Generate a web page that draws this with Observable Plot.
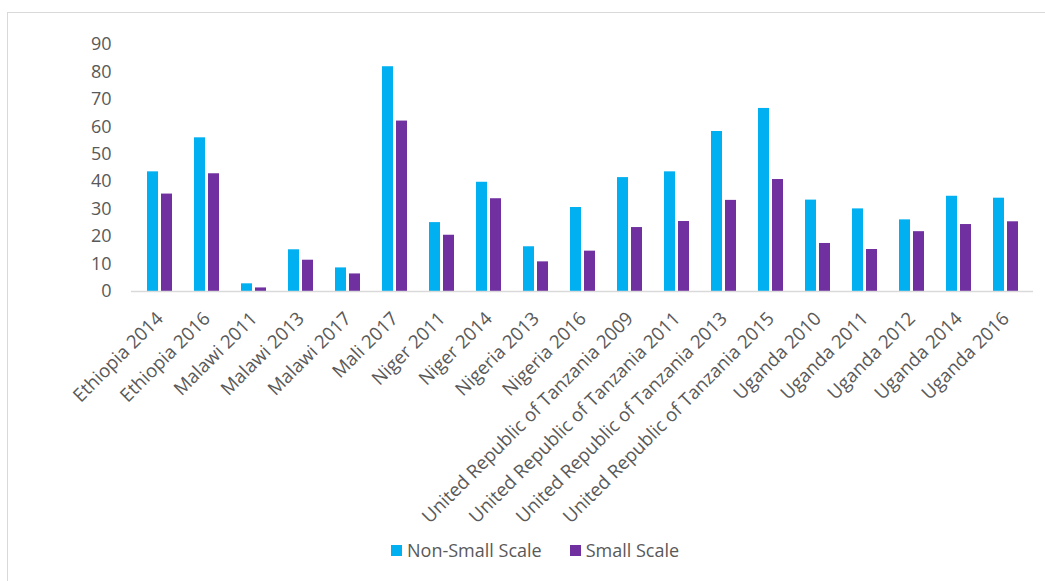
<!DOCTYPE html>
<html>
<head>
<meta charset="utf-8">
<script src="https://cdn.jsdelivr.net/npm/d3@7"></script>
<script src="https://cdn.jsdelivr.net/npm/@observablehq/plot@0.6"></script>
<style>
  body { margin: 0; background: #fff; font-family: "Open Sans", sans-serif; }
  #wrap { position: relative; width: 1045px; height: 581px; overflow: hidden; }
  #frame { position: absolute; left: 7px; top: 12px; width: 1100px; height: 700px; border-left: 1px solid #d9d9d9; border-top: 1px solid #d9d9d9; pointer-events: none; }
  #chart { position: absolute; left: 0; top: 0; }
  #legend { position: absolute; top: 538px; left: 391px; display: flex; align-items: center; font-size: 18px; color: #595959; white-space: nowrap; }
  .sw { display: inline-block; width: 11px; height: 11px; margin-right: 5px; }
  .item { display: flex; align-items: center; margin-right: 28px; }
</style>
</head>
<body>
<div id="wrap">
  <div id="frame"></div>
  <div id="chart"></div>
  <div id="legend"></div>
</div>
<script>
const categories = [
  "Ethiopia 2014", "Ethiopia 2016", "Malawi 2011", "Malawi 2013", "Malawi 2017",
  "Mali 2017", "Niger 2011", "Niger 2014", "Nigeria 2013", "Nigeria 2016",
  "United Republic of Tanzania 2009", "United Republic of Tanzania 2011",
  "United Republic of Tanzania 2013", "United Republic of Tanzania 2015",
  "Uganda 2010", "Uganda 2011", "Uganda 2012", "Uganda 2014", "Uganda 2016"
];
const nonSmallScale = [43.6, 56.0, 2.8, 15.2, 8.6, 81.9, 25.1, 39.8, 16.3, 30.6, 41.5, 43.6, 58.3, 66.7, 33.3, 30.1, 26.1, 34.7, 34.0];
const smallScale    = [35.5, 42.9, 1.3, 11.4, 6.4, 62.1, 20.5, 33.8, 10.8, 14.7, 23.3, 25.5, 33.2, 40.8, 17.5, 15.3, 21.8, 24.4, 25.4];
const seriesNames = ["Non-Small Scale", "Small Scale"];
const seriesColors = ["#00B0F0", "#7030A0"];
const yTicks = [0, 10, 20, 30, 40, 50, 60, 70, 80, 90];

const dataA = categories.map((c, i) => ({category: c, value: nonSmallScale[i]}));
const dataB = categories.map((c, i) => ({category: c, value: smallScale[i]}));

const chart = Plot.plot({
  width: 1045,
  height: 530,
  marginLeft: 131,
  marginRight: 12,
  marginTop: 44,
  marginBottom: 239,
  style: {fontFamily: "Open Sans", fontSize: "18px", color: "#595959", background: "transparent"},
  x: {domain: categories, paddingInner: 0.47, paddingOuter: 0.235, label: null},
  y: {domain: [0, 90], label: null},
  marks: [
    Plot.barY(dataA, {x: "category", y: "value", fill: seriesColors[0], insetRight: 14}),
    Plot.barY(dataB, {x: "category", y: "value", fill: seriesColors[1], insetLeft: 14}),
    Plot.ruleY([0], {stroke: "#d9d9d9", strokeWidth: 1.5}),
    Plot.axisY({ticks: yTicks, tickSize: 0, tickPadding: 20, label: null, fontSize: 18}),
    Plot.axisX({tickRotate: -45, tickSize: 0, tickPadding: 6, dx: 0, dy: 18, label: null, fontSize: 18.6})
  ]
});
document.getElementById("chart").appendChild(chart);

const legend = document.getElementById("legend");
seriesNames.forEach((name, i) => {
  const item = document.createElement("span");
  item.className = "item";
  const sw = document.createElement("span");
  sw.className = "sw";
  sw.style.background = seriesColors[i];
  item.appendChild(sw);
  item.appendChild(document.createTextNode(name));
  legend.appendChild(item);
});
</script>
</body>
</html>
